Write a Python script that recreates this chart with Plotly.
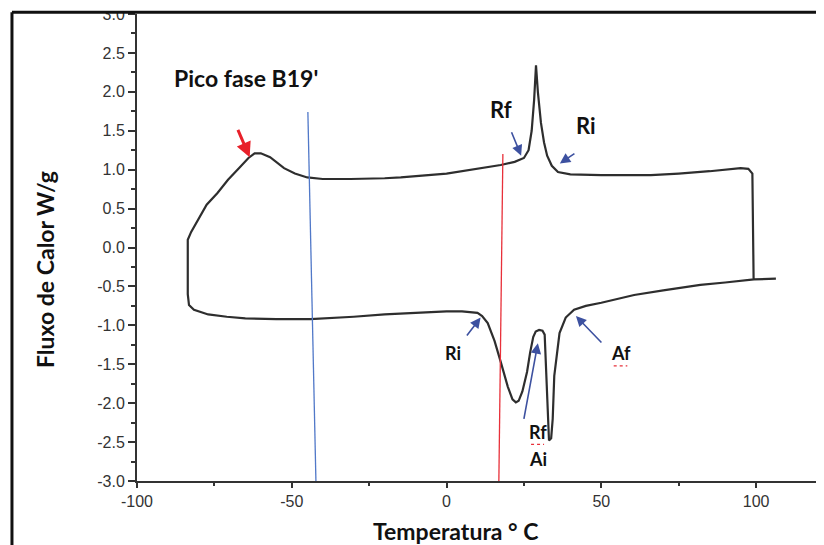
import plotly.graph_objects as go

# DSC loop (temperature in °C, heat flow in W/g)
temp = [106.4, 99.3, 90, 82, 70, 60.6, 50, 45, 41.2, 38.5, 36.5, 35.5, 34.8, 34.3, 33.8, 33.1,
        32.8, 32.5, 32.1, 31.7, 31.0, 29.9, 28.8, 28.0, 27.0, 26.0, 24.5, 23.3, 22.4, 21.3, 19.8,
        18.5, 17.5, 15.5, 13.3, 11.5, 10, 5, 0, -10, -20, -30, -44, -55, -65, -71, -77, -81.6,
        -83.2, -83.6, -83.6, -83.6,
        -82.5, -80, -77.5, -74, -70.6, -67, -64, -62, -60, -57, -52.5, -49, -45, -40, -31, -20,
        -14.8, 0, 10, 17.5, 22, 25, 26.5, 27.5, 28.3, 28.9, 29.5, 30.5, 31.5, 32.5, 34, 36, 40,
        50, 60, 66, 75, 85, 95, 97.5, 98.8, 99, 99.2]
flux = [-0.40, -0.41, -0.45, -0.48, -0.55, -0.61, -0.71, -0.75, -0.80, -0.90, -1.10, -1.40,
        -1.65, -2.20, -2.45, -2.48, -2.20, -1.80, -1.40, -1.12, -1.07, -1.06, -1.08, -1.15,
        -1.35, -1.60, -1.85, -1.97, -1.99, -1.95, -1.79, -1.60, -1.47, -1.20, -0.97, -0.88,
        -0.84, -0.82, -0.82, -0.84, -0.86, -0.89, -0.92, -0.92, -0.91, -0.89, -0.86, -0.80,
        -0.74, -0.60, -0.20, 0.10,
        0.20, 0.37, 0.55, 0.70, 0.87, 1.02, 1.15, 1.21, 1.21, 1.16, 1.02, 0.95, 0.90, 0.88,
        0.88, 0.89, 0.90, 0.95, 1.01, 1.06, 1.10, 1.15, 1.25, 1.50, 1.90, 2.34, 2.00, 1.60,
        1.35, 1.18, 1.05, 0.97, 0.94, 0.93, 0.93, 0.93, 0.95, 0.98, 1.02, 1.01, 0.95, 0.50,
        -0.41]

blue_x = [-44.8, -42.2]
blue_y = [1.74, -3.0]
red_x = [18.2, 16.9]
red_y = [1.20, -3.0]

x_ticks = [-100, -50, 0, 50, 100]
x_ticktext = ["-100", "-50", "0", "50", "100"]
y_ticks = [-3.0, -2.5, -2.0, -1.5, -1.0, -0.5, 0.0, 0.5, 1.0, 1.5, 2.0, 2.5, 3.0]
y_ticktext = ["-3.0", "-2.5", "-2.0", "-1.5", "-1.0", "-0.5", "0.0", "0.5", "1.0", "1.5",
              "2.0", "2.5", "3.0"]

# annotations: (text, x, y, arrow tail x, tail y, head x, head y, size)
labels = [
    ("Rf", 17.6, 1.77, 20.8, 1.50, 24.1, 1.18, 22),
    ("Ri", 45.0, 1.57, 41.8, 1.22, 36.6, 1.08, 22),
    ("Ri", 2.0, -1.36, 6.2, -1.15, 11.0, -0.90, 18),
    ("Af", 56.2, -1.36, 50.5, -1.24, 41.8, -0.88, 18),
    ("Rf", 29.5, -2.37, 24.9, -2.22, 29.5, -1.23, 18),
]

fig = go.Figure()
fig.add_trace(go.Scatter(x=temp, y=flux, mode="lines",
                         line=dict(color="#2e2e2e", width=2.2), showlegend=False))
fig.add_trace(go.Scatter(x=blue_x, y=blue_y, mode="lines",
                         line=dict(color="#5078c8", width=1.3), showlegend=False))
fig.add_trace(go.Scatter(x=red_x, y=red_y, mode="lines",
                         line=dict(color="#e8303a", width=1.3), showlegend=False))

font_b = "Lato, 'Open Sans', sans-serif"
ann = []
for t, x, y, tx, ty, hx, hy, s in labels:
    ann.append(dict(x=x, y=y, text="<b>%s</b>" % t, showarrow=False,
                    font=dict(family=font_b, size=s, color="#111")))
    ann.append(dict(x=hx, y=hy, ax=tx, ay=ty, axref="x", ayref="y", text="",
                    showarrow=True, arrowhead=2, arrowsize=1.3, arrowwidth=1.6,
                    arrowcolor="#3d51a0"))
ann.append(dict(x=29.5, y=-2.72, text="<b>Ai</b>", showarrow=False,
                font=dict(family=font_b, size=18, color="#111")))
ann.append(dict(x=-64.8, y=2.18, text="<b>Pico fase B19'</b>", showarrow=False,
                xanchor="center", font=dict(family=font_b, size=23, color="#111")))
ann.append(dict(x=-63.6, y=1.16, ax=-67.6, ay=1.53, axref="x", ayref="y", text="",
                showarrow=True, arrowhead=2, arrowsize=1.0, arrowwidth=3,
                arrowcolor="#e8202a"))
# axis titles
ann.append(dict(xref="paper", yref="paper", x=0.468, y=-0.108, text="<b>Temperatura ° C</b>",
                showarrow=False, xanchor="center", yanchor="middle",
                font=dict(family=font_b, size=23, color="#111")))
ann.append(dict(xref="paper", yref="paper", x=-0.135, y=0.452, text="<b>Fluxo de Calor W/g</b>",
                showarrow=False, textangle=-90, xanchor="center", yanchor="middle",
                font=dict(family=font_b, size=23, color="#111")))

shapes = [
    dict(type="rect", xref="paper", yref="paper", x0=-0.3, x1=1.1, y0=1.004, y1=1.1,
         fillcolor="white", line=dict(width=0), layer="above"),
    dict(type="line", xref="paper", yref="paper", x0=-0.1836, x1=1.02, y0=1.004, y1=1.004,
         line=dict(color="#111", width=3), layer="above"),
    dict(type="line", xref="paper", yref="paper", x0=-0.1836, x1=-0.1836, y0=1.004, y1=-0.2,
         line=dict(color="#111", width=3), layer="above"),
    # spell-check style underlines
    dict(type="line", x0=27.3, x1=31.5, y0=-2.53, y1=-2.53,
         line=dict(color="#e8303a", width=1.2, dash="dot")),
    dict(type="line", x0=54.0, x1=58.4, y0=-1.52, y1=-1.52,
         line=dict(color="#e8303a", width=1.2, dash="dot")),
]

# the page body adds an 8px offset, so the figure is sized to the visible area
tickfont = dict(family="Liberation Sans, Arial, sans-serif", size=16, color="#333")
fig.update_layout(
    width=816, height=537,
    margin=dict(l=129, r=6, t=6, b=64, autoexpand=False),
    paper_bgcolor="white", plot_bgcolor="white",
    annotations=ann, shapes=shapes,
    xaxis=dict(range=[-100, 120], tickvals=x_ticks, ticktext=x_ticktext,
               showgrid=False, zeroline=False, showline=True, linecolor="#333",
               linewidth=2, ticks="outside", ticklen=5, tickwidth=2, tickcolor="#333",
               tickfont=tickfont, automargin=False,
               minor=dict(dtick=25, ticks="outside", ticklen=3, tickwidth=1.5,
                          tickcolor="#333", tick0=0)),
    yaxis=dict(range=[-3, 3], tickvals=y_ticks, ticktext=y_ticktext,
               showgrid=False, zeroline=False, showline=True, linecolor="#333",
               linewidth=2, ticks="outside", ticklen=7, tickwidth=2, tickcolor="#333",
               tickfont=tickfont, automargin=False, ticklabeloverflow="allow",
               minor=dict(dtick=0.25, ticks="outside", ticklen=4, tickwidth=1.5,
                          tickcolor="#333", tick0=0)),
)
fig.write_html("out.html")
